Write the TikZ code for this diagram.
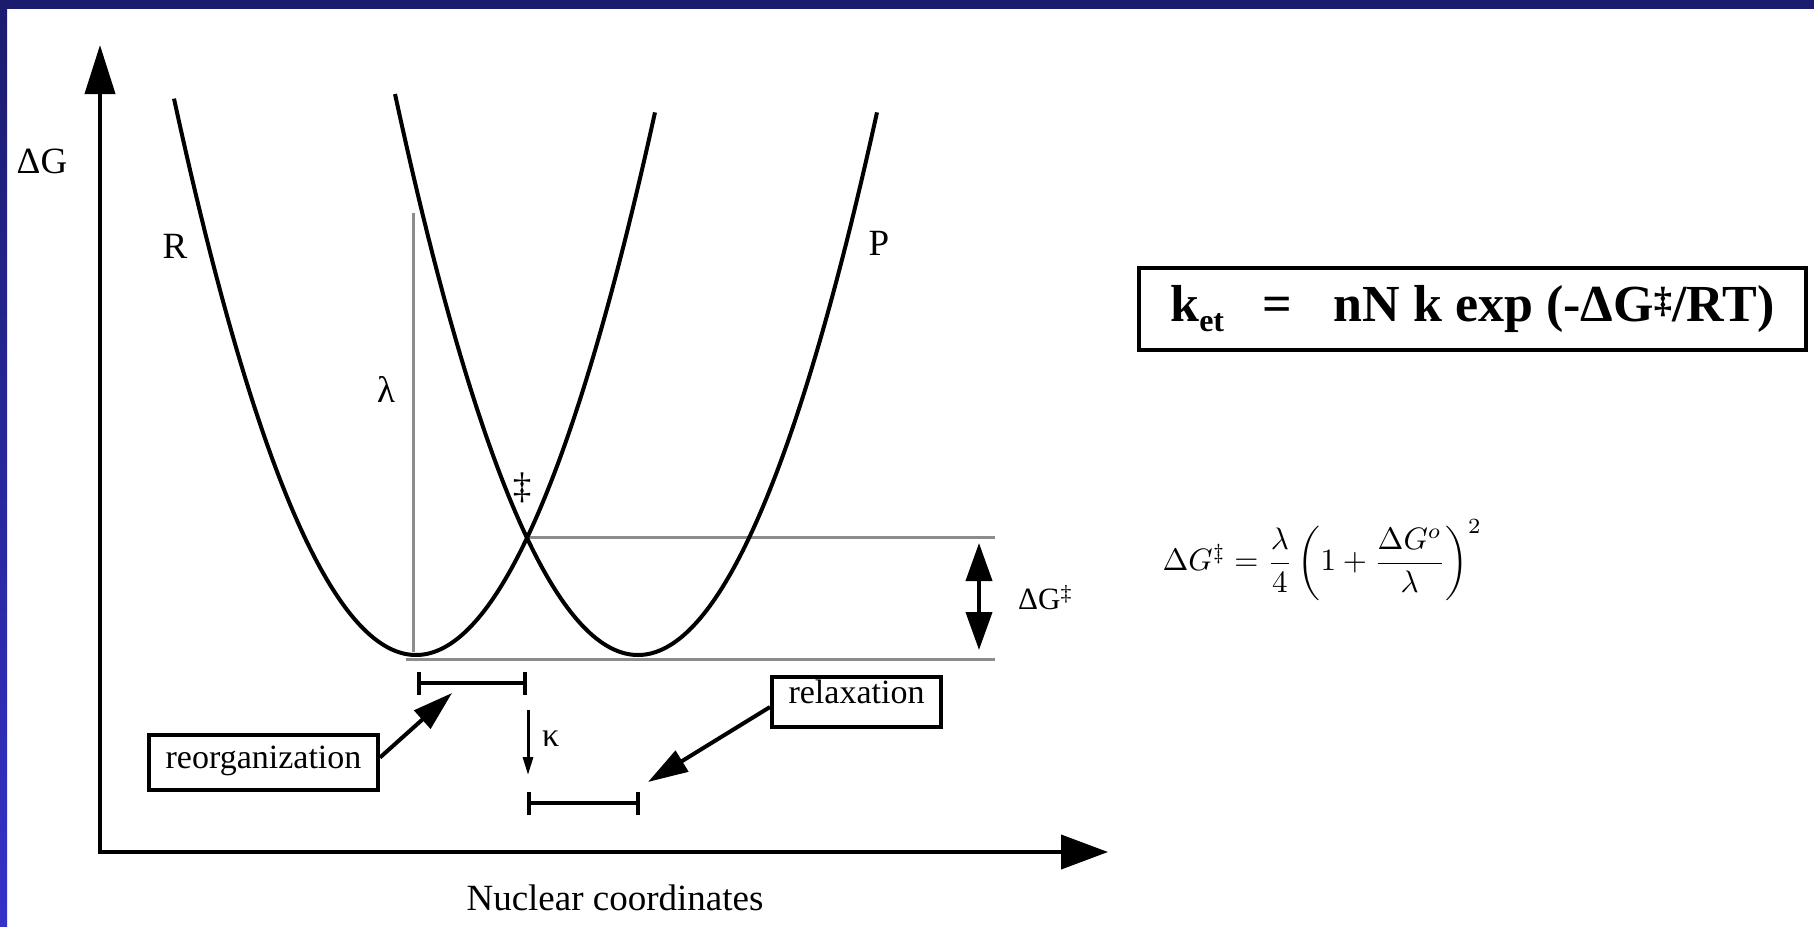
\documentclass[tikz,border=0pt]{standalone}
\usepackage{amsmath}
\usepackage{fontspec}
\setmainfont{Liberation Serif}
\usetikzlibrary{arrows.meta,positioning}
\definecolor{FrameTop}{HTML}{1B1C6E}
\definecolor{FrameBottom}{HTML}{3432C8}
\definecolor{Guide}{HTML}{8C8C8C}

\begin{document}
\begin{tikzpicture}[x=1pt,y=-1pt,
    lbl/.style={font=\fontsize{37}{40}\selectfont,inner sep=0pt},
    tag/.style={draw,line width=4pt,font=\fontsize{34}{36}\selectfont,inner sep=0pt,text height=23pt},
    axis/.style={line width=4pt,{Triangle[length=49pt,width=30pt]}-{Triangle[length=47pt,width=34pt]}},
    curve/.style={line width=4pt,line join=round,smooth,samples=90},
    guide/.style={line width=3pt,color=Guide},
    interval/.style={line width=4pt,{Bar[width=23pt]}-{Bar[width=23pt]}},
    twohead/.style={line width=4pt,{Triangle[length=38pt,width=26pt]}-{Triangle[length=38pt,width=26pt]}},
    call/.style={line width=4pt,-{Triangle[length=40pt,width=24pt]}},
    kap/.style={line width=3pt,-{Triangle[length=18pt,width=10pt]}}
  ]
    \useasboundingbox (0,0) rectangle (1814,926);
    \fill[white] (0,0) rectangle (1814,926);
    % slide frame
    \shade[top color=FrameTop,bottom color=FrameBottom] (0,0) rectangle (7,926);
    \fill[FrameTop] (0,0) rectangle (1814,9);

    % axes
    \coordinate (origin) at (100,852);
    \coordinate (ytip) at (100,45);
    \coordinate (xtip) at (1108,852);
    \draw[axis] (ytip) -- (origin) -- (xtip);
    \node[lbl] (dGaxis) at (42,161) {ΔG};
    \node[lbl,anchor=base] (xlab) at (615,910) {Nuclear coordinates};

    % guide lines
    \coordinate (TS) at (527,537);
    \coordinate (tsR) at (995,537);
    \coordinate (lamTop) at (413,213);
    \coordinate (lamBot) at (413,652);
    \coordinate (baseL) at (406,659);
    \coordinate (baseR) at (995,659);
    \draw[guide] (lamTop) -- (lamBot);
    \draw[guide] (TS) -- (tsR);
    \draw[guide] (baseL) -- (baseR);

    % free energy curves (x in steps of 10px)
    \draw[curve] plot[domain=-24.2:23.9] ({416+10*\x},{655-0.95*\x*\x});
    \draw[curve] plot[domain=-24.3:23.9] ({638+10*\x},{655-0.95*\x*\x});
    \node[lbl] (Rlab) at (175,246) {R};
    \node[lbl] (Plab) at (879,243) {P};
    \node[lbl] (lam) at (386,389) {λ};
    \node[lbl] (dag) at (522,488) {‡};

    % activation barrier
    \coordinate (dGtop) at (979,543);
    \coordinate (dGbot) at (979,650);
    \coordinate (dGmid) at (979,598);
    \draw[twohead] (dGtop) -- (dGbot);
    \node[font=\fontsize{31}{33}\selectfont,inner sep=0pt,right=39pt of dGmid] (dGlab) {ΔG\textsuperscript{‡}};

    % displacements
    \coordinate (reorgL) at (417,683);
    \coordinate (reorgR) at (527,683);
    \coordinate (relaxL) at (527,803);
    \coordinate (relaxR) at (640,803);
    \draw[interval] (reorgL) -- (reorgR);
    \draw[interval] (relaxL) -- (relaxR);
    \coordinate (kapTop) at (528,710);
    \coordinate (kapBot) at (528,775);
    \coordinate (kapMid) at (528,739);
    \draw[kap] (kapTop) -- (kapBot);
    \node[lbl,font=\fontsize{34}{36}\selectfont,right=14pt of kapMid] (kapLab) {κ};

    % callouts
    \node[tag,minimum width=229pt,minimum height=55pt,text depth=12pt] (reorg) at (263.5,762.5) {reorganization};
    \node[tag,minimum width=169pt,minimum height=50pt,text depth=20pt] (relax) at (856.5,702) {relaxation};
    \coordinate (reorgTip) at (452,693);
    \coordinate (relaxTip) at (648,782);
    \draw[call] ([yshift=5pt]reorg.east) -- (reorgTip);
    \draw[call] ([yshift=-5pt]relax.west) -- (relaxTip);

    % rate expressions
    \node[draw,line width=4pt,minimum width=667pt,minimum height=82pt,inner sep=0pt,
      font=\fontsize{52}{56}\selectfont\bfseries] (rate) at (1472.5,309)
      {k\raisebox{-10pt}{\fontsize{32}{32}\selectfont et}\hspace{38pt}=\hspace{42pt}nN k exp (-ΔG\textsuperscript{‡}/RT)};
    \node[scale=3.1,anchor=west,inner sep=0pt] (barrier) at (1162,560)
      {$\Delta G^{\ddagger} = \dfrac{\lambda}{4}\left(1+\dfrac{\Delta G^{o}}{\lambda}\right)^{2}$};
  \end{tikzpicture}
\end{document}
